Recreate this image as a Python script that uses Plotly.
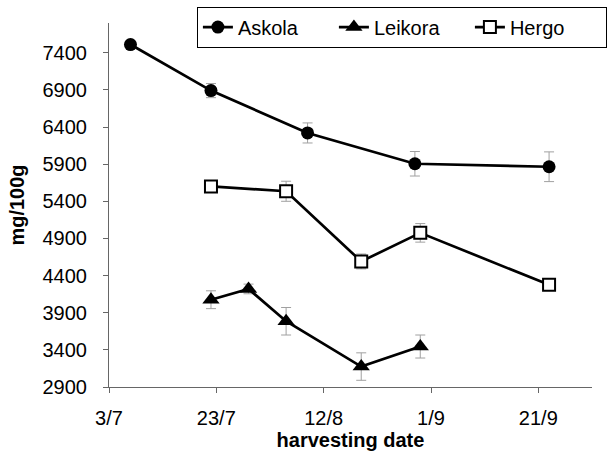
import plotly.graph_objects as go

# ---- data ----
tick_dates = ["2004-07-03", "2004-07-23", "2004-08-12", "2004-09-01", "2004-09-21"]
tick_labels = ["3/7", "23/7", "12/8", "1/9", "21/9"]
y_ticks = [2900, 3400, 3900, 4400, 4900, 5400, 5900, 6400, 6900, 7400]

askola_dates = ["2004-07-07", "2004-07-22", "2004-08-09", "2004-08-29", "2004-09-23"]
askola_vals = [7510, 6890, 6320, 5905, 5865]
askola_err = [30, 95, 135, 165, 200]

leikora_dates = ["2004-07-22", "2004-07-29", "2004-08-05", "2004-08-19", "2004-08-30"]
leikora_vals = [4075, 4220, 3785, 3175, 3445]
leikora_err = [120, 65, 185, 185, 155]

hergo_dates = ["2004-07-22", "2004-08-05", "2004-08-19", "2004-08-30", "2004-09-23"]
hergo_vals = [5600, 5535, 4590, 4975, 4275]
hergo_err = [50, 135, 100, 125, 40]

FONT = "Liberation Sans, Arial, sans-serif"
ERR = dict(type="data", visible=True, color="#a0a0a0", thickness=1, width=5)

fig = go.Figure()
fig.add_trace(go.Scatter(
    x=askola_dates, y=askola_vals, name="Askola", mode="lines+markers",
    line=dict(color="black", width=2.7),
    marker=dict(symbol="circle", size=13, color="black"),
    error_y=dict(array=askola_err, **ERR)))
fig.add_trace(go.Scatter(
    x=leikora_dates, y=leikora_vals, name="Leikora", mode="lines+markers",
    line=dict(color="black", width=2.7),
    marker=dict(symbol="triangle-up", size=15, color="black"),
    error_y=dict(array=leikora_err, **ERR)))
fig.add_trace(go.Scatter(
    x=hergo_dates, y=hergo_vals, name="Hergo", mode="lines+markers",
    line=dict(color="black", width=2.7),
    marker=dict(symbol="square", size=12, color="white",
                line=dict(color="black", width=2)),
    error_y=dict(array=hergo_err, **ERR)))

fig.update_layout(
    width=609, height=451,
    margin=dict(l=109, r=17, t=23, b=64, autoexpand=False),
    paper_bgcolor="white", plot_bgcolor="white",
    font=dict(family=FONT, size=20, color="black"),
    showlegend=True,
    legend=dict(
        orientation="h", x=0.182, y=1.045, xanchor="left", yanchor="top",
        bordercolor="black", borderwidth=1, bgcolor="white",
        font=dict(family=FONT, size=20, color="black"),
        itemwidth=30, entrywidth=91,
    ),
    xaxis=dict(
        type="date", range=["2004-07-03", "2004-10-01"],
        tickmode="array", tickvals=tick_dates, ticktext=tick_labels,
        showgrid=False, zeroline=False,
        showline=True, linecolor="#666", linewidth=1,
        ticks="outside", ticklen=5, tickcolor="#666",
        ticklabelstandoff=8,
        tickfont=dict(family=FONT, size=20, color="black"),
        title=dict(text="harvesting date", standoff=0,
                   font=dict(family=FONT, size=20, color="black", weight="bold")),
    ),
    yaxis=dict(
        range=[2900, 7800],
        tickmode="array", tickvals=y_ticks,
        showgrid=False, zeroline=False,
        showline=True, linecolor="#666", linewidth=1,
        ticks="outside", ticklen=5, tickcolor="#666",
        ticklabelstandoff=12,
        tickfont=dict(family=FONT, size=20, color="black"),
        title=dict(text="mg/100g", standoff=12,
                   font=dict(family=FONT, size=20, color="black", weight="bold")),
    ),
)

fig.write_html("out.html")
